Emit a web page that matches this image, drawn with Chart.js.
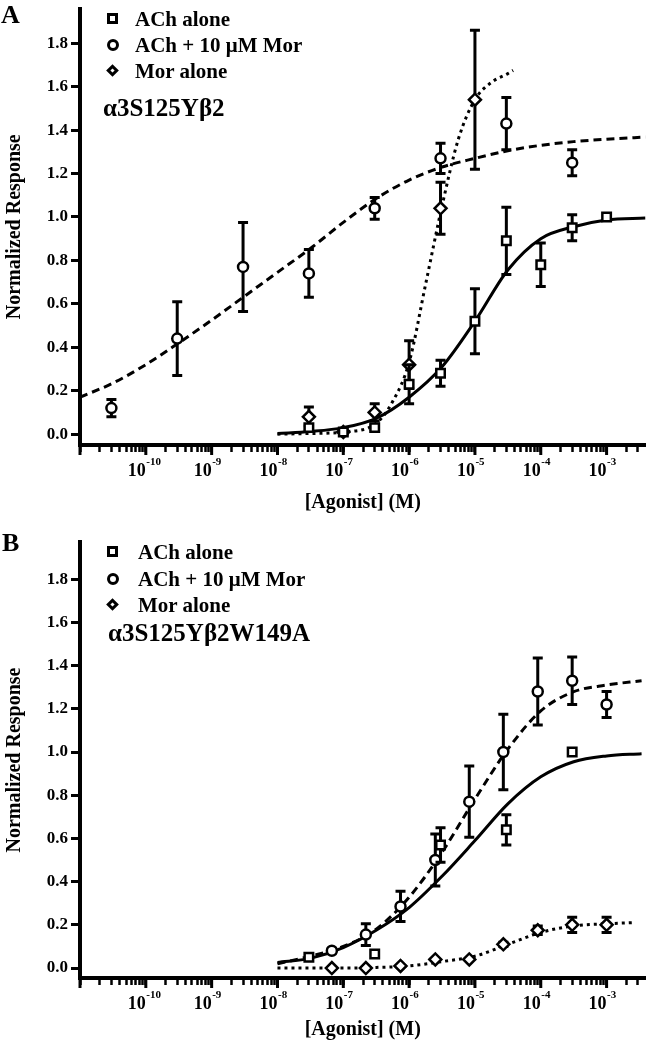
<!DOCTYPE html>
<html>
<head>
<meta charset="utf-8">
<script src="https://cdn.jsdelivr.net/npm/chart.js@4.4.1/dist/chart.umd.min.js"></script>
<style>
body{margin:0;background:#fff;}
#wrap{position:relative;width:654px;height:1050px;background:#fff;font-family:"Liberation Serif","Times New Roman",serif;font-weight:bold;color:#000;}
#wrap canvas{position:absolute;left:0;}
.txt{position:absolute;white-space:nowrap;font-size:21px;line-height:24px;}
.sub{position:absolute;white-space:nowrap;font-size:25px;line-height:28px;}
.letter{position:absolute;font-size:26px;line-height:28px;}
.mk{position:absolute;box-sizing:border-box;border:3px solid #000;background:#fff;}
.sq{width:11px;height:11px;}
.ci{width:12px;height:12px;border-radius:50%;}
.di{width:9px;height:9px;transform:rotate(45deg);}
</style>
</head>
<body>
<div id="wrap">
  <canvas id="chartA" width="654" height="520" style="top:0"></canvas>
  <canvas id="chartB" width="654" height="530" style="top:520px"></canvas>

  <div class="letter" style="left:1px;top:1px">A</div>
  <div class="mk sq" style="left:107px;top:13px"></div>
  <div class="mk ci" style="left:107px;top:39px"></div>
  <div class="mk di" style="left:108px;top:66px"></div>
  <div class="txt" style="left:135px;top:7px">ACh alone</div>
  <div class="txt" style="left:135px;top:33px">ACh + 10 μM Mor</div>
  <div class="txt" style="left:135px;top:59px">Mor alone</div>
  <div class="sub" style="left:103px;top:94px">α3S125Yβ2</div>

  <div class="letter" style="left:2px;top:529px">B</div>
  <div class="mk sq" style="left:107px;top:546px"></div>
  <div class="mk ci" style="left:107px;top:573px"></div>
  <div class="mk di" style="left:108px;top:600px"></div>
  <div class="txt" style="left:138px;top:540px">ACh alone</div>
  <div class="txt" style="left:138px;top:567px">ACh + 10 μM Mor</div>
  <div class="txt" style="left:138px;top:593px">Mor alone</div>
  <div class="sub" style="left:108px;top:619px">α3S125Yβ2W149A</div>
</div>
<script>
//axes
var xMin = 1e-11;
var xMax = 3.9e-3;
var xTickPowers = [-11, -10, -9, -8, -7, -6, -5, -4, -3];
var xLabelPowers = [-10, -9, -8, -7, -6, -5, -4, -3];
var minorSteps = [1, 2, 3, 4, 5, 6, 7, 8, 9];
var yTicks = [0, 0.2, 0.4, 0.6, 0.8, 1.0, 1.2, 1.4, 1.6, 1.8];

//panel A - ACh alone
var achDoseA = [3e-8, 1e-7, 3e-7, 1e-6, 3e-6, 1e-5, 3e-5, 1e-4, 3e-4, 1e-3];
var achRespA = [0.03, 0.01, 0.03, 0.23, 0.28, 0.52, 0.89, 0.78, 0.95, 1.00];
var achSemA  = [0.01, 0.01, 0.01, 0.09, 0.06, 0.15, 0.155, 0.10, 0.06, 0];
//panel A - ACh + 10 uM Mor
var mixDoseA = [3e-11, 3e-10, 3e-9, 3e-8, 3e-7, 3e-6, 3e-5, 3e-4];
var mixRespA = [0.12, 0.44, 0.77, 0.74, 1.04, 1.27, 1.43, 1.25];
var mixSemA  = [0.04, 0.17, 0.205, 0.11, 0.05, 0.07, 0.12, 0.06];
//panel A - Mor alone
var morDoseA = [3e-8, 1e-7, 3e-7, 1e-6, 3e-6, 1e-5];
var morRespA = [0.08, 0.01, 0.10, 0.32, 1.04, 1.54];
var morSemA  = [0.045, 0.01, 0.04, 0.11, 0.12, 0.32];

//panel A - fitted curves
var achFitDoseA = [1e-8, 3.16e-8, 1e-7, 3.16e-7, 1e-6, 3.16e-6, 1e-5, 3.16e-5, 1e-4, 3.16e-4, 1e-3, 3.9e-3];
var achFitA     = [0.003, 0.012, 0.03, 0.073, 0.17, 0.31, 0.52, 0.756, 0.90, 0.955, 0.986, 0.995];
var mixFitDoseA = [1e-11, 3.16e-11, 1e-10, 3.16e-10, 1e-9, 3.16e-9, 1e-8, 3.16e-8, 1e-7, 3.16e-7, 1e-6, 3.16e-6, 1e-5, 3.16e-5, 1e-4, 3.16e-4, 1e-3, 3.9e-3];
var mixFitA     = [0.17, 0.235, 0.32, 0.42, 0.525, 0.635, 0.745, 0.855, 0.975, 1.085, 1.17, 1.23, 1.27, 1.305, 1.33, 1.347, 1.358, 1.368];
var morFitDoseA = [1e-8, 3.16e-8, 1e-7, 3.16e-7, 5.62e-7, 1e-6, 1.78e-6, 3.16e-6, 5.62e-6, 1e-5, 1.78e-5, 3.16e-5, 3.8e-5];
var morFitA     = [0.0, 0.003, 0.01, 0.05, 0.15, 0.33, 0.69, 1.05, 1.36, 1.54, 1.62, 1.66, 1.675];

//panel B - ACh alone
var achDoseB = [3e-8, 3e-7, 3e-6, 3e-5, 3e-4];
var achRespB = [0.05, 0.065, 0.57, 0.64, 1.00];
var achSemB  = [0, 0, 0.08, 0.07, 0];
//panel B - ACh + 10 uM Mor
var mixDoseB = [6.7e-8, 2.2e-7, 7.4e-7, 2.5e-6, 8.2e-6, 2.7e-5, 9e-5, 3e-4, 1e-3];
var mixRespB = [0.08, 0.155, 0.285, 0.50, 0.77, 1.00, 1.28, 1.33, 1.22];
var mixSemB  = [0.01, 0.05, 0.07, 0.12, 0.165, 0.175, 0.155, 0.11, 0.06];
//panel B - Mor alone
var morDoseB = [6.7e-8, 2.2e-7, 7.4e-7, 2.5e-6, 8.2e-6, 2.7e-5, 9e-5, 3e-4, 1e-3];
var morRespB = [0.0, 0.0, 0.01, 0.04, 0.04, 0.11, 0.175, 0.20, 0.20];
var morSemB  = [0, 0, 0, 0, 0, 0.01, 0.02, 0.035, 0.035];

//panel B - fitted curves
var achFitDoseB = [1e-8, 3.16e-8, 1e-7, 3.16e-7, 1e-6, 3.16e-6, 1e-5, 3.16e-5, 1e-4, 3.16e-4, 1e-3, 3.4e-3];
var achFitB     = [0.026, 0.045, 0.095, 0.175, 0.28, 0.425, 0.59, 0.76, 0.885, 0.955, 0.982, 0.992];
var mixFitDoseB = [1e-8, 3.16e-8, 1e-7, 3.16e-7, 1e-6, 3.16e-6, 1e-5, 3.16e-5, 1e-4, 3.16e-4, 1e-3, 3.4e-3];
var mixFitB     = [0.02, 0.055, 0.10, 0.18, 0.328, 0.536, 0.782, 1.013, 1.19, 1.279, 1.31, 1.33];
var morFitDoseB = [1e-8, 3.16e-8, 1e-7, 3.16e-7, 1e-6, 3.16e-6, 1e-5, 3.16e-5, 1e-4, 3.16e-4, 1e-3, 2.5e-3];
var morFitB     = [0.0, 0.0, 0.0, 0.003, 0.01, 0.03, 0.055, 0.11, 0.165, 0.195, 0.205, 0.21];

var serif = "'Liberation Serif', 'Times New Roman', serif";

//tick values 1..9 x 10^p
var xTickValues = [];
xTickPowers.forEach(function(p){
	minorSteps.forEach(function(m){
		var v = parseFloat(m + 'e' + p);
		if (v <= xMax) xTickValues.push(v);
	});
});

var pts = function(xs, ys){
	return xs.map(function(x, i){ return {x: x, y: ys[i]}; });
};

var pointSet = function(doses, resp, sem, style, radius){
	return {
		data: pts(doses, resp),
		err: sem,
		showLine: false,
		pointStyle: style,
		pointRadius: radius,
		pointHoverRadius: radius,
		pointBackgroundColor: '#fff',
		pointBorderColor: '#000',
		pointBorderWidth: 2.5
	};
};

var fitSet = function(doses, resp, dash){
	return {
		data: pts(doses, resp),
		showLine: true,
		pointRadius: 0,
		borderColor: '#000',
		borderWidth: 3,
		borderDash: dash,
		borderCapStyle: 'butt',
		cubicInterpolationMode: 'monotone',
		fill: false
	};
};

//error bars, drawn under each marker set
var errorBars = {
	id: 'errorBars',
	beforeDatasetDraw: function(chart, args){
		var ds = chart.data.datasets[args.index];
		if (!ds.err) return;
		var ctx = chart.ctx, xs = chart.scales.x, ys = chart.scales.y;
		ctx.save();
		ctx.strokeStyle = '#000';
		ctx.lineWidth = 3;
		ds.data.forEach(function(p, i){
			var e = ds.err[i];
			if (!e) return;
			var px = xs.getPixelForValue(p.x);
			var top = ys.getPixelForValue(p.y + e);
			var bot = ys.getPixelForValue(p.y - e);
			ctx.beginPath();
			ctx.moveTo(px, top); ctx.lineTo(px, bot);
			ctx.moveTo(px - 5, top); ctx.lineTo(px + 5, top);
			ctx.moveTo(px - 5, bot); ctx.lineTo(px + 5, bot);
			ctx.stroke();
		});
		ctx.restore();
	}
};

//long decade ticks and 10^n labels
var decadeTicks = {
	id: 'decadeTicks',
	afterDraw: function(chart){
		var ctx = chart.ctx, xs = chart.scales.x, area = chart.chartArea;
		ctx.save();
		ctx.strokeStyle = '#000';
		ctx.fillStyle = '#000';
		ctx.lineWidth = 3;
		xTickPowers.forEach(function(p){
			var px = xs.getPixelForValue(parseFloat('1e' + p));
			ctx.beginPath();
			ctx.moveTo(px, area.bottom);
			ctx.lineTo(px, area.bottom + 10);
			ctx.stroke();
		});
		xLabelPowers.forEach(function(p){
			var px = xs.getPixelForValue(parseFloat('1e' + p));
			ctx.font = 'bold 18px ' + serif;
			ctx.textAlign = 'right';
			ctx.textBaseline = 'alphabetic';
			ctx.fillText('10', px, area.bottom + 31);
			ctx.font = 'bold 11px ' + serif;
			ctx.textAlign = 'left';
			ctx.fillText(String(p), px + 0.5, area.bottom + 20);
		});
		ctx.restore();
	}
};

var buildChart = function(canvasId, yMin, yMax, padTop, plotBottom, titlePad, datasets){
	var canvas = document.getElementById(canvasId);
	return new Chart(canvas.getContext('2d'), {
		type: 'scatter',
		data: {datasets: datasets},
		options: {
			responsive: false,
			animation: false,
			events: [],
			layout: {padding: {top: padTop, right: 2, bottom: 0, left: 0}},
			plugins: {legend: {display: false}, tooltip: {enabled: false}},
			scales: {
				x: {
					type: 'logarithmic',
					min: xMin,
					max: xMax,
					afterBuildTicks: function(s){
						s.ticks = xTickValues.map(function(v){ return {value: v}; });
					},
					afterFit: function(s){
						s.height = canvas.height - plotBottom;
						s.paddingLeft = 0;
						s.paddingRight = 0;
					},
					ticks: {callback: function(){ return ''; }, autoSkip: false, maxRotation: 0, padding: 0},
					grid: {drawOnChartArea: false, tickLength: 7, tickWidth: 2.5, tickColor: '#000'},
					border: {display: true, color: '#000', width: 4},
					title: {
						display: true,
						text: '[Agonist] (M)',
						color: '#000',
						font: {family: serif, size: 20, weight: 'bold'},
						padding: {top: 0, bottom: titlePad}
					}
				},
				y: {
					min: yMin,
					max: yMax,
					afterBuildTicks: function(s){
						s.ticks = yTicks.map(function(v){ return {value: v}; });
					},
					afterFit: function(s){
						s.width = 80;
						s.paddingTop = 0;
						s.paddingBottom = 0;
					},
					ticks: {
						callback: function(v){ return Number(v).toFixed(1); },
						color: '#000',
						font: {family: serif, size: 17, weight: 'bold', lineHeight: 1},
						padding: 3,
						autoSkip: false
					},
					grid: {drawOnChartArea: false, tickLength: 9, tickWidth: 3, tickColor: '#000'},
					border: {display: true, color: '#000', width: 4},
					title: {
						display: true,
						text: 'Normalized Response',
						color: '#000',
						font: {family: serif, size: 20, weight: 'bold'},
						padding: {top: 3, bottom: 0}
					}
				}
			}
		},
		plugins: [errorBars, decadeTicks]
	});
};

//panel A
buildChart('chartA', -0.05, 1.96, 8, 445, 5, [
	pointSet(achDoseA, achRespA, achSemA, 'rect', 6),
	pointSet(mixDoseA, mixRespA, mixSemA, 'circle', 5),
	pointSet(morDoseA, morRespA, morSemA, 'rectRot', 6),
	fitSet(achFitDoseA, achFitA, []),
	fitSet(mixFitDoseA, mixFitA, [8, 5]),
	fitSet(morFitDoseA, morFitA, [3, 4])
]);

//panel B
buildChart('chartB', -0.046, 1.972, 22, 458, 8, [
	pointSet(achDoseB, achRespB, achSemB, 'rect', 6),
	pointSet(mixDoseB, mixRespB, mixSemB, 'circle', 5),
	pointSet(morDoseB, morRespB, morSemB, 'rectRot', 6),
	fitSet(achFitDoseB, achFitB, []),
	fitSet(mixFitDoseB, mixFitB, [8, 5]),
	fitSet(morFitDoseB, morFitB, [3, 4])
]);
</script>
</body>
</html>
